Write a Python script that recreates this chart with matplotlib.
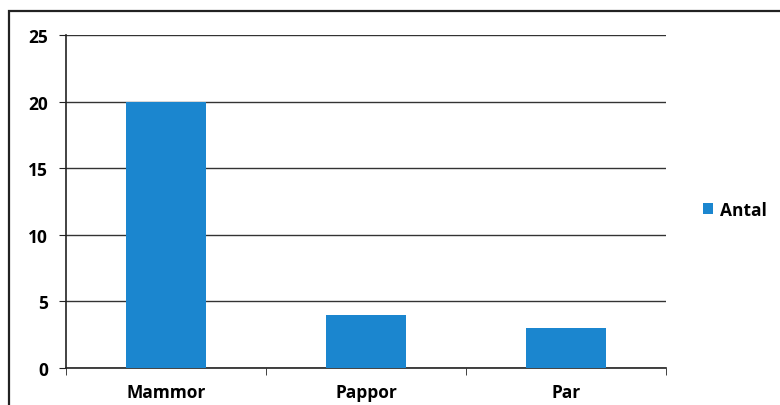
import matplotlib
matplotlib.use("Agg")
import matplotlib.pyplot as plt
from matplotlib.patches import Rectangle

# data
categories = ["Mammor", "Pappor", "Par"]
antal = [20, 4, 3]
yticks = [0, 5, 10, 15, 20, 25]

plt.rcParams['font.family'] = ['Open Sans', 'DejaVu Sans']

fig = plt.figure(figsize=(7.8, 4.06), dpi=100)
ax = fig.add_axes([0.085, 0.091, 0.769, 0.82])

# outer chart border
fig.patches.append(Rectangle((0.011, -0.01), 1.2, 0.98, transform=fig.transFigure,
                             fill=False, edgecolor="#222222", linewidth=1.6))

x = range(len(categories))
ax.bar(x, antal, width=0.4, color="#1b86cf", label="Antal", zorder=3)

ax.set_xlim(-0.5, len(categories) - 0.5)
ax.set_ylim(0, 25)
ax.set_yticks(yticks)
ax.set_xticks(x)
ax.set_xticklabels(categories, fontsize=12.5, fontweight="bold")
ax.tick_params(axis="x", length=0, pad=11)
# category boundary ticks
ax.set_xticks([i - 0.5 for i in range(len(categories) + 1)], minor=True)
ax.tick_params(axis="x", which="minor", length=5, direction="out", color="#222222")
ax.tick_params(axis="y", labelsize=12.5, length=5, pad=8, direction="out", color="#222222")
for lbl in ax.get_yticklabels():
    lbl.set_fontweight("bold")

ax.grid(axis="y", color="#333333", linewidth=1.0, zorder=0)
for side in ["top", "right"]:
    ax.spines[side].set_visible(False)
ax.spines["left"].set_color("#222222")
ax.spines["bottom"].set_color("#222222")
ax.spines["left"].set_linewidth(1.2)
ax.spines["bottom"].set_linewidth(1.2)

ax.legend(loc="center left", bbox_to_anchor=(1.035, 0.475), frameon=False,
          prop={"size": 12.5, "weight": "bold"}, handlelength=0.6, handleheight=0.6,
          handletextpad=0.4)

fig.savefig("out.png", dpi=100)
